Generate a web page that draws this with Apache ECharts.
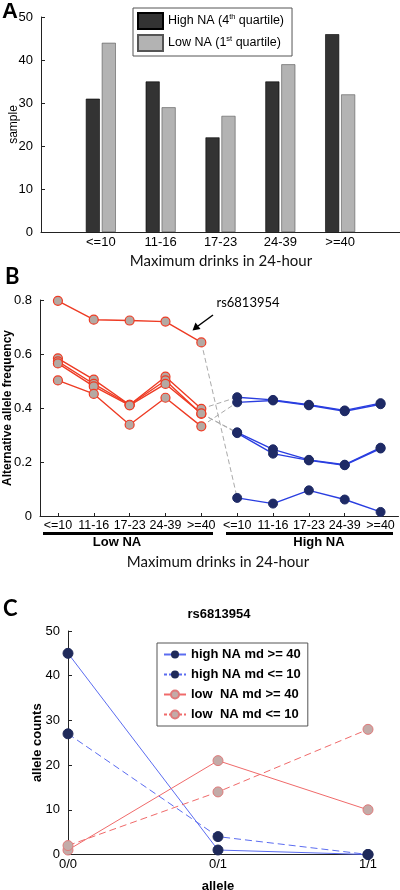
<!DOCTYPE html>
<html><head><meta charset="utf-8">
<script src="https://cdn.jsdelivr.net/npm/echarts@6/dist/echarts.min.js"></script>
<style>html,body{margin:0;padding:0;background:#fff}#c{width:400px;height:890px}</style>
</head><body><div id="c"></div>
<script>
// ---------- Panel A data ----------
const drinkCats = ['<=10', '11-16', '17-23', '24-39', '>=40'];
const highNASample = [31, 35, 22, 35, 46];
const lowNASample = [44, 29, 27, 39, 32];
const sampleTicks = { min: 0, max: 50, interval: 10 };

// ---------- Panel B data ----------
const groupCats = drinkCats.concat(drinkCats); // Low NA then High NA
const lowNAFreq = [
  [0.797, 0.727, 0.724, 0.720, 0.643],
  [0.584, 0.505, 0.412, 0.516, 0.397],
  [0.573, 0.489, 0.412, 0.502, 0.378],
  [0.565, 0.480, 0.410, 0.489, 0.380],
  [0.502, 0.452, 0.338, 0.438, 0.332]
];
const highNAFreq = [
  [0.067, 0.046, 0.095, 0.061, 0.015],
  [0.440, 0.430, 0.412, 0.391, 0.418],
  [0.310, 0.247, 0.208, 0.190, 0.253],
  [0.307, 0.231, 0.206, 0.188, 0.250],
  [0.421, 0.428, 0.410, 0.388, 0.414]
];
const freqTicks = { min: 0, max: 0.8, interval: 0.2 };

// ---------- Panel C data ----------
const alleleCats = ['0/0', '0/1', '1/1'];
const highMd40 = [45, 1, 0];
const highMd10 = [27, 4, 0];
const lowMd40 = [1, 21, 10];
const lowMd10 = [2, 14, 28];
const countTicks = { min: 0, max: 50, interval: 10 };

const padCats = [''].concat(drinkCats, ['']);
const pad = a => [null].concat(a, [null]);

const AX = '#222';
const axisBase = {
  axisLine: { show: true, lineStyle: { color: AX, width: 1 } },
  axisTick: { show: true, inside: true, length: 4, lineStyle: { color: AX } },
  splitLine: { show: false },
  nameMoveOverlap: false,
  axisLabel: { color: '#000', fontFamily: 'Liberation Sans, Arial', fontSize: 13 }
};

const RED = '#ee3b24', REDF = '#b4a9a3', BLUE = '#2a3ee0', NAVY = '#1e2a66';

const series = [];
// A bars
series.push({ name: 'High NA', type: 'bar', xAxisIndex: 0, yAxisIndex: 0, data: pad(highNASample),
  barWidth: 14, barGap: '14%', itemStyle: { color: '#333333', borderColor: '#000', borderWidth: 0.6 } });
series.push({ name: 'Low NA', type: 'bar', xAxisIndex: 0, yAxisIndex: 0, data: pad(lowNASample),
  barWidth: 14, itemStyle: { color: '#b3b3b3', borderColor: '#555', borderWidth: 0.6 } });

// B connectors
for (let i = 0; i < lowNAFreq.length; i++) {
  series.push({ type: 'line', xAxisIndex: 1, yAxisIndex: 1, z: 1, symbol: 'none', silent: true,
    data: [[4, lowNAFreq[i][4]], [5, highNAFreq[i][0]]],
    lineStyle: { color: '#aaaaaa', width: 1, type: [5, 3] } });
}
// B lines
for (let i = 0; i < lowNAFreq.length; i++) {
  series.push({ type: 'line', xAxisIndex: 1, yAxisIndex: 1, z: 3, symbol: 'circle', symbolSize: 9,
    data: lowNAFreq[i].map((v, j) => [j, v]),
    lineStyle: { color: RED, width: 1.4 },
    itemStyle: { color: REDF, borderColor: RED, borderWidth: 1.2 } });
  series.push({ type: 'line', xAxisIndex: 1, yAxisIndex: 1, z: 3, symbol: 'circle', symbolSize: 9,
    data: highNAFreq[i].map((v, j) => [j + 5, v]),
    lineStyle: { color: BLUE, width: 1.4 },
    itemStyle: { color: NAVY, borderColor: NAVY, borderWidth: 1 } });
}

// C lines
const cBlue = '#5b6cf0', cRed = '#f06a6a', cNavy = '#1f2a5a', cGray = '#c3aba8';
series.push({ name: 'high NA md >= 40', type: 'line', xAxisIndex: 2, yAxisIndex: 2, data: highMd40,
  symbol: 'circle', symbolSize: 10, lineStyle: { color: cBlue, width: 1 }, itemStyle: { color: cNavy, borderColor: cNavy } });
series.push({ name: 'high NA md <= 10', type: 'line', xAxisIndex: 2, yAxisIndex: 2, data: highMd10,
  symbol: 'circle', symbolSize: 10, lineStyle: { color: cBlue, width: 1, type: [7, 4] }, itemStyle: { color: cNavy, borderColor: cNavy } });
series.push({ name: 'low  NA md >= 40', type: 'line', xAxisIndex: 2, yAxisIndex: 2, data: lowMd40,
  symbol: 'circle', symbolSize: 10, lineStyle: { color: cRed, width: 1 }, itemStyle: { color: cGray, borderColor: '#e07a7a', borderWidth: 1 } });
series.push({ name: 'low  NA md <= 10', type: 'line', xAxisIndex: 2, yAxisIndex: 2, data: lowMd10,
  symbol: 'circle', symbolSize: 10, lineStyle: { color: cRed, width: 1, type: [7, 4] }, itemStyle: { color: cGray, borderColor: '#e07a7a', borderWidth: 1 } });

const CAL = 'Lato, Open Sans, sans-serif';
const ARI = 'Liberation Sans, Arial, sans-serif';

const option = {
  animation: false,
  backgroundColor: '#fff',
  grid: [
    { left: 41, top: 17, width: 359, height: 215, containLabel: false, outerBoundsMode: 'none' },
    { left: 40, top: 300, width: 358.5, height: 216, containLabel: false, outerBoundsMode: 'none' },
    { left: 68, top: 631, width: 300, height: 223.5, containLabel: false, outerBoundsMode: 'none' }
  ],
  xAxis: [
    Object.assign({}, axisBase, { gridIndex: 0, type: 'category', data: padCats, boundaryGap: false,
      axisTick: { show: false },
      axisLabel: Object.assign({}, axisBase.axisLabel, { interval: 0, margin: 4 }) }),
    Object.assign({}, axisBase, { gridIndex: 1, type: 'category', data: groupCats, boundaryGap: true,
      axisTick: { show: true, inside: true, length: 3, alignWithLabel: true, lineStyle: { color: AX } },
      axisLabel: Object.assign({}, axisBase.axisLabel, { interval: 0, margin: 3, fontSize: 12.5, hideOverlap: false }) }),
    Object.assign({}, axisBase, { gridIndex: 2, type: 'category', data: alleleCats, boundaryGap: false,
      axisLabel: Object.assign({}, axisBase.axisLabel, { interval: 0, margin: 3 }),
      name: 'allele', nameLocation: 'middle', nameGap: 25,
      nameTextStyle: { fontFamily: ARI, fontSize: 13, fontWeight: 'bold', color: '#000' } })
  ],
  yAxis: [
    Object.assign({}, axisBase, { gridIndex: 0, type: 'value', min: sampleTicks.min, max: sampleTicks.max, interval: sampleTicks.interval,
      name: 'sample', nameLocation: 'middle', nameGap: 21,
      nameTextStyle: { fontFamily: ARI, fontSize: 12, color: '#000' } }),
    Object.assign({}, axisBase, { gridIndex: 1, type: 'value', min: freqTicks.min, max: freqTicks.max, interval: freqTicks.interval,
      name: 'Alternative allele frequency', nameLocation: 'middle', nameGap: 26,
      nameTextStyle: { fontFamily: ARI, fontSize: 12, fontWeight: 'bold', color: '#000' } }),
    Object.assign({}, axisBase, { gridIndex: 2, type: 'value', min: countTicks.min, max: countTicks.max, interval: countTicks.interval,
      name: 'allele counts', nameLocation: 'middle', nameGap: 24,
      nameTextStyle: { fontFamily: ARI, fontSize: 13, fontWeight: 'bold', color: '#000' } })
  ],
  legend: [
    { data: ['High NA', 'Low NA'], orient: 'vertical', left: 133, top: 8, padding: [4, 8, 4, 4], itemGap: 4,
      itemWidth: 25, itemHeight: 16, icon: 'rect', borderColor: '#555', borderWidth: 1, selectedMode: false,
      formatter: n => n === 'High NA' ? '{t|High NA (4}{s|th}{t| quartile)}' : '{t|Low NA (1}{s|st}{t| quartile)}',
      textStyle: { rich: {
        t: { fontFamily: ARI, fontSize: 12.5, color: '#000', lineHeight: 16 },
        s: { fontFamily: ARI, fontSize: 7.5, color: '#000', lineHeight: 16, verticalAlign: 'top', padding: [0, 0, 8, 0] } } } },
    { data: [
        { name: 'high NA md >= 40' },
        { name: 'high NA md <= 10', lineStyle: { type: [3, 2] } },
        { name: 'low  NA md >= 40' },
        { name: 'low  NA md <= 10', lineStyle: { type: [3, 2] } }
      ],
      orient: 'vertical', left: 157, top: 643, padding: [4, 7, 4, 6], itemGap: 5,
      itemWidth: 22, itemHeight: 10, borderColor: '#555', borderWidth: 1, selectedMode: false,
      textStyle: { fontFamily: ARI, fontSize: 13, fontWeight: 'bold', color: '#000', lineHeight: 15 } }
  ],
  series: series,
  graphic: [
    { type: 'text', left: 2, top: 1, style: { text: 'A', font: 'bold 22px ' + ARI, fill: '#000' } },
    { type: 'text', left: 5, top: 266, style: { text: 'B', font: 'bold 22px ' + CAL, fill: '#000' } },
    { type: 'text', left: 3, top: 598, style: { text: 'C', font: 'bold 22px ' + CAL, fill: '#000' } },
    { type: 'text', x: 221, y: 254, style: { text: 'Maximum drinks in 24-hour', font: '15px ' + CAL, fill: '#111', align: 'center' } },
    { type: 'text', x: 218, y: 555, style: { text: 'Maximum drinks in 24-hour', font: '15px ' + CAL, fill: '#111', align: 'center' } },
    { type: 'text', x: 219, y: 608, style: { text: 'rs6813954', font: 'bold 13px ' + ARI, fill: '#000', align: 'center' } },
    { type: 'text', x: 248, y: 296, style: { text: 'rs6813954', font: '13px ' + CAL, fill: '#000', align: 'center' } },
    { type: 'line', shape: { x1: 213, y1: 315, x2: 198, y2: 326 }, style: { stroke: '#000', lineWidth: 1.5 } },
    { type: 'polygon', shape: { points: [[192.5, 330.5], [195.5, 322.5], [200.5, 329]] }, style: { fill: '#000' } },
    { type: 'line', shape: { x1: 43, y1: 533.5, x2: 213, y2: 533.5 }, style: { stroke: '#000', lineWidth: 3 } },
    { type: 'line', shape: { x1: 226, y1: 533.5, x2: 393, y2: 533.5 }, style: { stroke: '#000', lineWidth: 3 } },
    { type: 'text', x: 117, y: 536, style: { text: 'Low NA', font: 'bold 13px ' + ARI, fill: '#000', align: 'center' } },
    { type: 'text', x: 319, y: 536, style: { text: 'High NA', font: 'bold 13px ' + ARI, fill: '#000', align: 'center' } }
  ]
};
const chart = echarts.init(document.getElementById('c'), null, { renderer: 'canvas' });
chart.setOption(option);
</script></body></html>
